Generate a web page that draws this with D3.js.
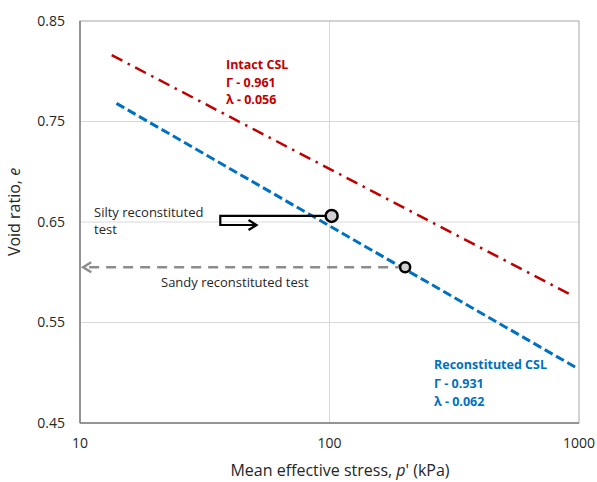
<!DOCTYPE html>
<html>
<head>
<script src="https://d3js.org/d3.v7.min.js"></script>
<style>
  body { margin: 0; background: #fff; }
  text { font-family: "Open Sans", sans-serif; fill: #262626; }
  .grid line { stroke: #d9d9d9; stroke-width: 1px; }
</style>
</head>
<body>
<svg width="597" height="482"></svg>
<script>
var xTicks = [10, 100, 1000];
var yTicks = [0.45, 0.55, 0.65, 0.75, 0.85];

// CSL end points (p' kPa, e)
var intactP = [13.4, 920];
var intactE = [0.816, 0.578];
var reconP = [14, 975];
var reconE = [0.768, 0.505];

// test points and their arrows
var siltyP = 102, siltyE = 0.656;
var siltyArrowP = [36.5, 51];   // box start, arrow head
var siltyArrowE = 0.647;
var sandyP = 201, sandyE = 0.605;
var sandyArrowP = 10.3;

var intactLabel = ["Intact CSL", "\u0393 - 0.961", "\u03bb - 0.056"];
var reconLabel = ["Reconstituted CSL", "\u0393 - 0.931", "\u03bb - 0.062"];

var margin = {left: 80, top: 21, right: 18, bottom: 59};
var width = 597 - margin.left - margin.right;
var height = 482 - margin.top - margin.bottom;

var svg = d3.select('svg');
var g = svg.append('g').attr('transform', 'translate(' + margin.left + ',' + margin.top + ')');

var x = d3.scaleLog().domain([10, 1000]).range([0, width]);
var y = d3.scaleLinear().domain([0.45, 0.85]).range([height, 0]);

// grid
g.append('g').attr('class', 'grid')
  .selectAll('line.h').data(yTicks.slice(1, -1)).enter()
  .append('line')
  .attr('x1', 0).attr('x2', width)
  .attr('y1', function(d) { return y(d); }).attr('y2', function(d) { return y(d); });
g.append('g').attr('class', 'grid')
  .selectAll('line.v').data([100]).enter()
  .append('line')
  .attr('y1', 0).attr('y2', height)
  .attr('x1', function(d) { return x(d); }).attr('x2', function(d) { return x(d); });

// frame
g.append('rect').attr('width', width).attr('height', height)
  .attr('fill', 'none').attr('stroke', '#a6a6a6').attr('stroke-width', 1);
g.append('line').attr('x1', 0).attr('x2', 0).attr('y1', 0).attr('y2', height)
  .attr('stroke', '#7f7f7f').attr('stroke-width', 1.5);
g.append('line').attr('x1', 0).attr('x2', width).attr('y1', height).attr('y2', height)
  .attr('stroke', '#7f7f7f').attr('stroke-width', 1.5);

// tick labels
g.selectAll('text.yt').data(yTicks).enter()
  .append('text')
  .attr('x', -15).attr('y', function(d) { return y(d); })
  .attr('dy', '0.35em').attr('text-anchor', 'end')
  .style('font-size', '14px')
  .text(function(d) { return d3.format('.2f')(d); });
g.selectAll('text.xt').data(xTicks).enter()
  .append('text')
  .attr('x', function(d) { return x(d); }).attr('y', height + 20)
  .attr('dy', '0.35em').attr('text-anchor', 'middle')
  .style('font-size', '14px')
  .text(function(d) { return d; });

// axis titles
var xt = svg.append('text').attr('x', 340).attr('y', 470).attr('dy', '0.35em')
  .attr('text-anchor', 'middle').style('font-size', '16px');
xt.append('tspan').text('Mean effective stress, ');
xt.append('tspan').style('font-style', 'italic').text('p');
xt.append('tspan').text("' (kPa)");

var yt = svg.append('text').attr('transform', 'translate(14,212) rotate(-90)')
  .attr('dy', '0.35em').attr('text-anchor', 'middle').style('font-size', '16px');
yt.append('tspan').text('Void ratio, ');
yt.append('tspan').style('font-style', 'italic').text('e');

var line = d3.line()
  .x(function(d) { return x(d[0]); })
  .y(function(d) { return y(d[1]); });

// CSLs
g.append('path').datum(d3.zip(intactP, intactE))
  .attr('d', line).attr('fill', 'none')
  .attr('stroke', '#c00000').attr('stroke-width', 2.5)
  .attr('stroke-dasharray', '12,6,2.5,6');
g.append('path').datum(d3.zip(reconP, reconE))
  .attr('d', line).attr('fill', 'none')
  .attr('stroke', '#0070c0').attr('stroke-width', 3)
  .attr('stroke-dasharray', '9,4');

// sandy test arrow (dashed, pointing left)
g.append('path').datum([[sandyP, sandyE], [sandyArrowP, sandyE]])
  .attr('d', line).attr('fill', 'none')
  .attr('stroke', '#8c8c8c').attr('stroke-width', 2.5)
  .attr('stroke-dasharray', '10,7');
var ax = x(sandyArrowP), ay = y(sandyE);
g.append('path')
  .attr('d', 'M' + (ax + 8) + ',' + (ay - 5) + 'L' + ax + ',' + ay + 'L' + (ax + 8) + ',' + (ay + 5))
  .attr('fill', 'none').attr('stroke', '#8c8c8c').attr('stroke-width', 2.5);

// silty test arrow (outlined, pointing right)
var bx0 = x(siltyArrowP[0]), bx1 = x(siltyArrowP[1]);
var by0 = y(siltyE), by1 = y(siltyArrowE);
g.append('path')
  .attr('d', 'M' + x(siltyP) + ',' + by0 + 'H' + bx0 + 'V' + by1 + 'H' + bx1)
  .attr('fill', 'none').attr('stroke', '#000').attr('stroke-width', 2.2);
g.append('path')
  .attr('d', 'M' + (bx1 - 8) + ',' + (by1 - 5) + 'L' + bx1 + ',' + by1 + 'L' + (bx1 - 8) + ',' + (by1 + 5))
  .attr('fill', 'none').attr('stroke', '#000').attr('stroke-width', 2.2);

// test points
g.selectAll('circle.pt').data([[siltyP, siltyE, 6], [sandyP, sandyE, 5]]).enter()
  .append('circle')
  .attr('cx', function(d) { return x(d[0]); })
  .attr('cy', function(d) { return y(d[1]); })
  .attr('r', function(d) { return d[2]; })
  .attr('fill', '#d0d0d0').attr('stroke', '#000').attr('stroke-width', 2.5);

// labels
svg.selectAll('text.il').data(intactLabel).enter()
  .append('text')
  .attr('x', 226).attr('y', function(d, i) { return 65 + i * 17.5; })
  .attr('dy', '0.35em').style('font-size', '12.5px').style('font-weight', 'bold')
  .style('fill', '#c00000')
  .text(function(d) { return d; });
svg.selectAll('text.rl').data(reconLabel).enter()
  .append('text')
  .attr('x', 434).attr('y', function(d, i) { return 365 + i * 18.5; })
  .attr('dy', '0.35em').style('font-size', '12.5px').style('font-weight', 'bold')
  .style('fill', '#0070c0')
  .text(function(d) { return d; });
svg.selectAll('text.sl').data(['Silty reconstituted', 'test']).enter()
  .append('text')
  .attr('x', 94).attr('y', function(d, i) { return 212 + i * 17.5; })
  .attr('dy', '0.35em').style('font-size', '13px')
  .text(function(d) { return d; });
svg.append('text').attr('x', 161).attr('y', 282).attr('dy', '0.35em')
  .style('font-size', '13px').text('Sandy reconstituted test');
</script>
</body>
</html>
